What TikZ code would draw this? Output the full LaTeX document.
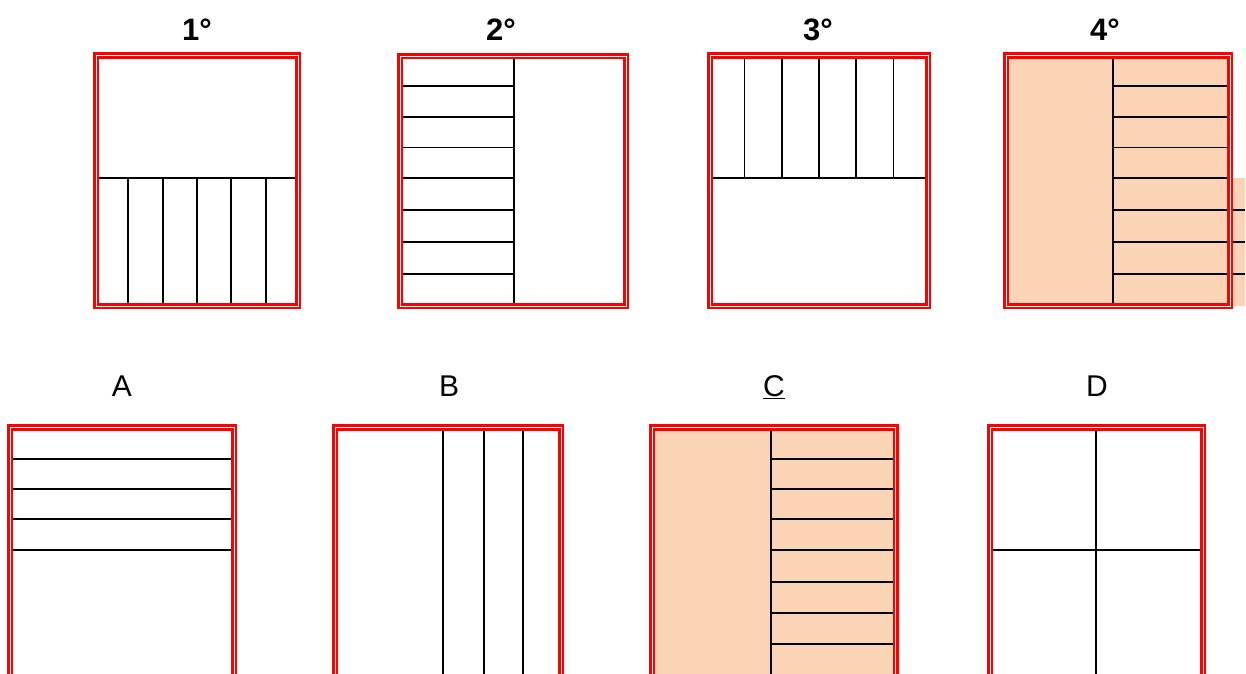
\documentclass[tikz,border=0pt]{standalone}
\usepackage{fontspec}
\setmainfont{Liberation Sans}
\usetikzlibrary{positioning}
\definecolor{framered}{HTML}{FF0000}
\definecolor{peach}{HTML}{FAD4B4}

\begin{document}
\begin{tikzpicture}[x=1pt, y=-1pt,
  frame/.style={draw=framered, line width=2.6pt, double=white, double distance=1pt},
  part/.style={draw=black, line width=1.8pt},
  toplabel/.style={font=\fontsize{31}{31}\selectfont\bfseries, inner sep=0pt, anchor=base},
  botlabel/.style={font=\fontsize{30}{30}\selectfont, inner sep=0pt, anchor=base},
  ]
  \clip (0,0) rectangle (1246,673);

  % top row
  \node[toplabel] (t1) at (197,40) {1°};
  \node[toplabel] (t2) at (501,40) {2°};
  \node[toplabel] (t3) at (818,40) {3°};
  \node[toplabel] (t4) at (1105,40) {4°};

  % 1
  \draw[part] (95.5,178) -- (298,178);
  \foreach \x in {128.3,162.7,197,231.3,265.7}
    \draw[part] (\x,178) -- (\x,306.5);
  \draw[frame] (96,55.5) rectangle (298,306.2);

  % 2
  \draw[part] (514,55.4) -- (514,306.3);
  \foreach \y in {86,117,147.5,178,210,242,274}
    \draw[part] (399.7,\y) -- (514,\y);
  \draw[frame] (400.2,56) rectangle (626,306.2);

  % 3
  \draw[part] (709.7,178) -- (928.3,178);
  \foreach \x in {744.5,782,819,856,893.5}
    \draw[part] (\x,54.7) -- (\x,178);
  \draw[frame] (710.2,55.5) rectangle (928,306.2);

  % 4
  \fill[peach] (1005.7,54.7) rectangle (1230.3,306.3);
  \fill[peach] (1230.3,178) rectangle (1245,305.7);
  \draw[part] (1113,54.7) -- (1113,306.3);
  \foreach \y in {86,117,147.5,178}
    \draw[part] (1113,\y) -- (1230.3,\y);
  \foreach \y in {210,242,274}
    \draw[part] (1113,\y) -- (1245,\y);
  \draw[frame] (1006.2,55.5) rectangle (1230,306.2);

  % bottom row
  \node[botlabel] (la) at (122,396.7) {A};
  \node[botlabel] (lb) at (449,396.7) {B};
  \node[botlabel] (lc) at (774,396.7) {\underline{C}};
  \node[botlabel] (ld) at (1097,396.7) {D};

  % A
  \foreach \y in {458.7,488.7,519,549.7}
    \draw[part] (9.7,\y) -- (234.6,\y);
  \draw[frame] (10.2,427.5) rectangle (234.3,700);

  % B
  \foreach \x in {443,483.7,523}
    \draw[part] (\x,427) -- (\x,700);
  \draw[frame] (335.2,427.5) rectangle (561,700);

  % C
  \fill[peach] (651.7,427) rectangle (896,700);
  \draw[part] (770.7,427) -- (770.7,700);
  \foreach \y in {458.7,488.7,519,550,581.7,613,644}
    \draw[part] (770.7,\y) -- (896,\y);
  \draw[frame] (652.2,427.5) rectangle (895.7,700);

  % D
  \draw[part] (1096,427) -- (1096,700);
  \draw[part] (989.7,550) -- (1203.3,550);
  \draw[frame] (990.2,427.5) rectangle (1203,700);
\end{tikzpicture}
\end{document}
